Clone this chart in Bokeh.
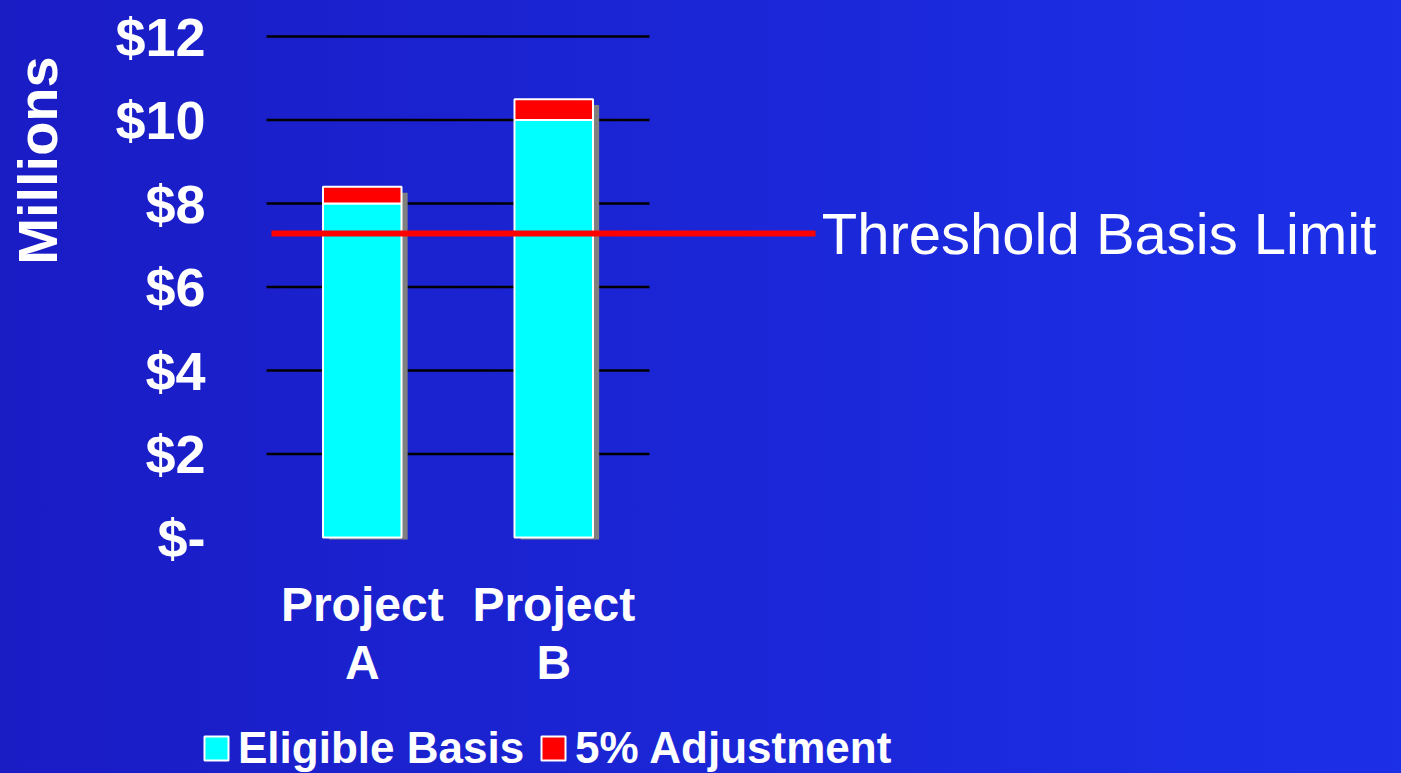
import numpy as np
from bokeh.plotting import figure
from bokeh.models import (Range1d, Legend, LegendItem, Label, ColumnDataSource)
from bokeh.core.properties import value
from bokeh.transform import dodge
from bokeh.embed import file_html
from bokeh.resources import INLINE

# ---- data ----
categories = ["Project\nA", "Project\nB"]
eligible_basis = [8.0, 10.0]
adjustment = [0.4, 0.5]
threshold = 7.28
threshold_label = "Threshold Basis Limit"
y_ticks = [0, 2, 4, 6, 8, 10, 12]
y_tick_labels = ["$-", "$2", "$4", "$6", "$8", "$10", "$12"]
y_title = "Millions"

x = np.arange(len(categories)) + 0.5
totals = [e + a for e, a in zip(eligible_basis, adjustment)]

FONT = "Liberation Sans"
CYAN = "#00FFFF"
RED = "#FF0000"

# frame covers the whole canvas; bars region: x 0..2 -> 266..649 px, y 0..12 -> 537..36 px
PX_X = 191.5
PX_Y = 41.75
p = figure(width=1401, height=773, output_backend="svg", toolbar_location=None,
           x_range=Range1d(-266 / PX_X, 1135 / PX_X),
           y_range=Range1d(-236 / PX_Y, 12 + 36 / PX_Y),
           min_border=0)
p.axis.visible = False
p.grid.visible = False
p.background_fill_alpha = 0
p.border_fill_alpha = 0
p.outline_line_color = None
p.styles = {"background": "linear-gradient(to right, #1a1cc4, #1c30e8)"}

# grid lines across the bar region
p.segment(x0=0, x1=len(categories), y0=y_ticks[1:], y1=y_ticks[1:],
          line_color="black", line_width=2.5)

# y tick labels
p.text(x=0, y=y_ticks, text=y_tick_labels, x_offset=-61,
       text_align="right", text_baseline="middle", text_color="white",
       text_font=value(FONT), text_font_style="bold", text_font_size="54px")

# y title
p.text(x=0, y=y_ticks[-1], text=[y_title], x_offset=-229, y_offset=124,
       angle=np.pi / 2, text_align="center", text_baseline="middle",
       text_color="white", text_font=value(FONT), text_font_style="bold",
       text_font_size="56px")

# category labels
p.text(x=x, y=0, text=categories, y_offset=40, text_align="center",
       text_baseline="top", text_line_height=1.1, text_color="white",
       text_font=value(FONT), text_font_style="bold", text_font_size="48px")

src = ColumnDataSource(dict(x=x, e=eligible_basis, t=totals,
                            ts=[t - 0.14 for t in totals]))
# shadows
p.vbar(x=dodge("x", 0.032), width=0.41, bottom=-0.05, top="ts", source=src,
       fill_color="#808080", line_color=None)
r1 = p.vbar(x="x", width=0.41, bottom=0, top="e", source=src,
            fill_color=CYAN, line_color="white", line_width=2)
r2 = p.vbar(x="x", width=0.41, bottom="e", top="t", source=src,
            fill_color=RED, line_color="white", line_width=2)

# threshold line
p.line(x=[0.026, 2.867], y=[threshold, threshold], line_color=RED, line_width=6)
p.add_layout(Label(x=2.9, y=threshold, text=threshold_label,
                   text_color="white", text_font=FONT, text_font_size="58px",
                   text_baseline="middle", text_align="left"))

legend = Legend(items=[LegendItem(label="Eligible Basis", renderers=[r1]),
                       LegendItem(label="5% Adjustment", renderers=[r2])],
                orientation="horizontal", location=(201, 0),
                background_fill_alpha=0, border_line_color=None,
                label_text_font=FONT, label_text_font_style="bold",
                label_text_font_size="44px", label_text_color="white",
                glyph_width=30, glyph_height=30, label_standoff=7,
                spacing=14, padding=0, margin=0)
p.add_layout(legend, "center")

open("out.html", "w").write(file_html(p, INLINE))
